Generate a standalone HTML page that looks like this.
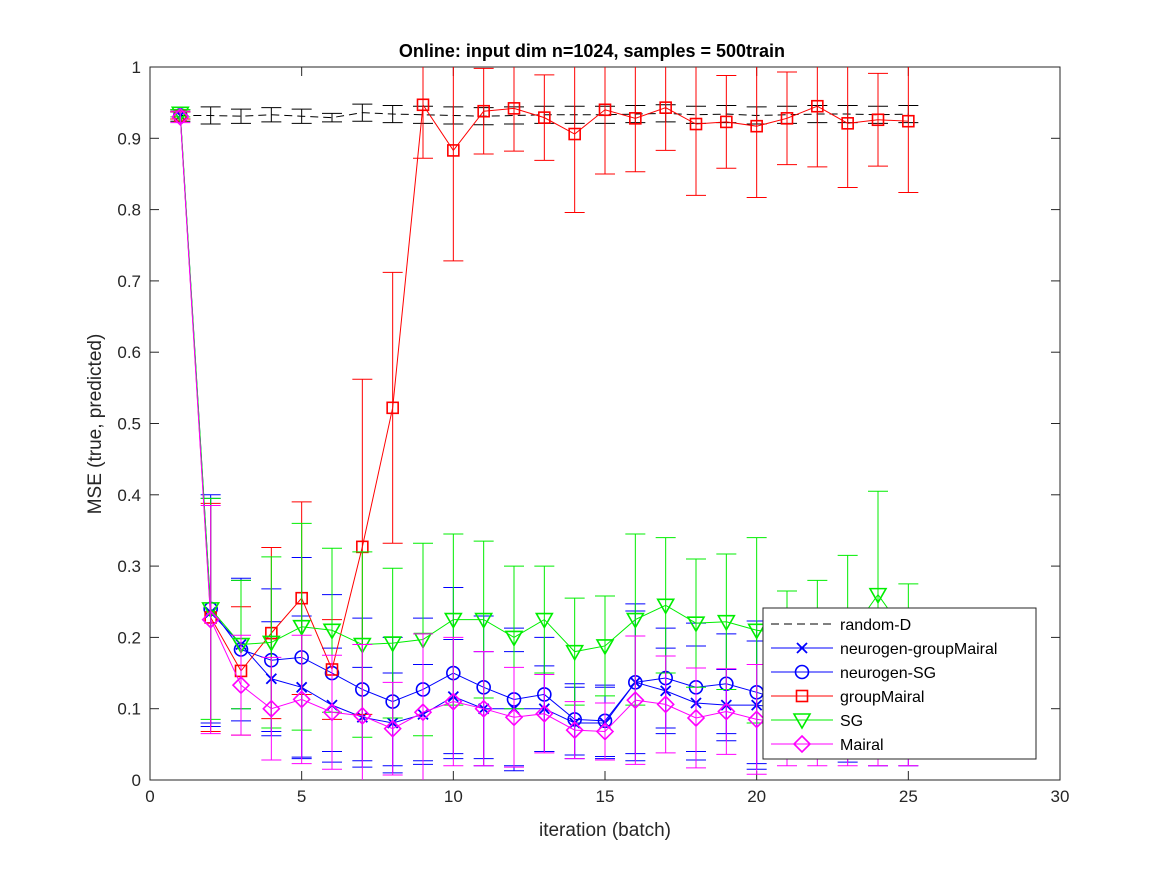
<!DOCTYPE html>
<html><head><meta charset="utf-8"><style>
body{margin:0;background:#fff;}
svg text{font-family:"Liberation Sans",Arial,sans-serif;}
</style></head><body>
<svg id="chart" width="1167" height="875" xmlns="http://www.w3.org/2000/svg">
<rect width="1167" height="875" fill="#fff"/>
<g id="plot"></g>
<text x="592" y="57" text-anchor="middle" font-size="18" font-weight="bold">Online:  input dim n=1024, samples = 500train</text>
<text x="605" y="836" text-anchor="middle" font-size="19" fill="#262626">iteration (batch)</text>
<text transform="translate(101,424) rotate(-90)" text-anchor="middle" font-size="19" fill="#262626">MSE (true, predicted)</text>
</svg>
<script>
const xTicks=[0,5,10,15,20,25,30];
const yTicks=[0,0.1,0.2,0.3,0.4,0.5,0.6,0.7,0.8,0.9,1];
const iters=[1,2,3,4,5,6,7,8,9,10,11,12,13,14,15,16,17,18,19,20,21,22,23,24,25];
const randomD=[0.932,0.932,0.931,0.933,0.931,0.929,0.936,0.934,0.933,0.932,0.931,0.932,0.933,0.933,0.933,0.934,0.935,0.933,0.934,0.932,0.933,0.934,0.934,0.933,0.934];
const randomDErr=[0.008,0.012,0.01,0.01,0.01,0.006,0.012,0.012,0.012,0.012,0.012,0.012,0.012,0.012,0.012,0.012,0.012,0.012,0.012,0.012,0.012,0.012,0.012,0.012,0.012];
const ngm=[0.932,0.235,0.19,0.142,0.13,0.105,0.088,0.08,0.092,0.117,0.1,0.1,0.1,0.08,0.08,0.137,0.125,0.108,0.105,0.105,0.1,0.1,0.1,0.1,0.1];
const ngmErr=[0.005,0.16,0.09,0.08,0.1,0.08,0.07,0.07,0.07,0.08,0.08,0.08,0.06,0.05,0.05,0.1,0.06,0.08,0.05,0.09,0.07,0.07,0.07,0.07,0.07];
const nsg=[0.932,0.24,0.183,0.168,0.172,0.15,0.127,0.11,0.127,0.15,0.13,0.113,0.12,0.085,0.083,0.137,0.143,0.13,0.135,0.123,0.11,0.11,0.105,0.1,0.1];
const nsgErr=[0.005,0.16,0.1,0.1,0.14,0.11,0.1,0.09,0.1,0.12,0.1,0.1,0.08,0.05,0.05,0.11,0.07,0.09,0.07,0.1,0.08,0.08,0.08,0.08,0.08];
const gm=[0.932,0.228,0.153,0.206,0.255,0.155,0.327,0.522,0.947,0.883,0.938,0.942,0.929,0.906,0.94,0.928,0.943,0.92,0.923,0.917,0.928,0.945,0.921,0.926,0.924];
const gmErr=[0.005,0.16,0.09,0.12,0.135,0.07,0.235,0.19,0.075,0.155,0.06,0.06,0.06,0.11,0.09,0.075,0.06,0.1,0.065,0.1,0.065,0.085,0.09,0.065,0.1];
const sg=[0.935,0.24,0.19,0.193,0.215,0.21,0.19,0.192,0.197,0.225,0.225,0.2,0.225,0.18,0.188,0.225,0.245,0.22,0.222,0.21,0.205,0.2,0.2,0.26,0.2];
const sgErr=[0.005,0.155,0.09,0.12,0.145,0.115,0.13,0.105,0.135,0.12,0.11,0.1,0.075,0.075,0.07,0.12,0.095,0.09,0.095,0.13,0.06,0.08,0.115,0.145,0.075];
const mairal=[0.93,0.225,0.133,0.1,0.113,0.095,0.09,0.072,0.095,0.11,0.1,0.088,0.093,0.07,0.068,0.112,0.106,0.087,0.096,0.085,0.08,0.08,0.08,0.08,0.08];
const mairalErr=[0.008,0.16,0.07,0.072,0.09,0.08,0.1,0.065,0.11,0.09,0.08,0.07,0.055,0.04,0.04,0.09,0.068,0.07,0.06,0.077,0.06,0.06,0.06,0.06,0.06];

const L=150,R=1060,T=67,B=780;
const sx=v=>L+(v-0)/(30-0)*(R-L);
const sy=v=>B-(v-0)/(1-0)*(B-T);
const NS='http://www.w3.org/2000/svg';
const plot=document.getElementById('plot');
function mk(tag,attrs,parent){const e=document.createElementNS(NS,tag);for(const k in attrs)e.setAttribute(k,attrs[k]);(parent||plot).appendChild(e);return e;}

const frame=mk('rect',{x:L,y:T,width:R-L,height:B-T,fill:'#fff',stroke:'#262626','stroke-width':1});


xTicks.forEach(t=>{const x=sx(t);
 mk('line',{x1:x,x2:x,y1:B,y2:B-9,stroke:'#262626'});mk('line',{x1:x,x2:x,y1:T,y2:T+9,stroke:'#262626'});
 const tx=mk('text',{x:x,y:B+22,'text-anchor':'middle','font-size':17,fill:'#262626'});tx.textContent=t;
 
 });
yTicks.forEach(t=>{const y=sy(t);
 mk('line',{x1:L,x2:L+9,y1:y,y2:y,stroke:'#262626'});mk('line',{x1:R,x2:R-9,y1:y,y2:y,stroke:'#262626'});
 const tx=mk('text',{x:L-9,y:y+6,'text-anchor':'end','font-size':17,fill:'#262626'});tx.textContent=(t===0||t===1)?String(t):t.toFixed(1);
 
 });

function marker(g,type,x,y,c){
 if(type==='x'){mk('path',{d:`M${x-5},${y-5}L${x+5},${y+5}M${x-5},${y+5}L${x+5},${y-5}`,stroke:c,'stroke-width':1.8,fill:'none'},g);}
 else if(type==='o'){mk('circle',{cx:x,cy:y,r:6.5,stroke:c,'stroke-width':1.6,fill:'none'},g);}
 else if(type==='s'){mk('rect',{x:x-5.5,y:y-5.5,width:11,height:11,stroke:c,'stroke-width':1.6,fill:'none'},g);}
 else if(type==='v'){mk('path',{d:`M${x-8},${y-6}L${x+8},${y-6}L${x},${y+8}Z`,stroke:c,'stroke-width':1.6,fill:'none'},g);}
 else if(type==='d'){mk('path',{d:`M${x},${y-8}L${x+8},${y}L${x},${y+8}L${x-8},${y}Z`,stroke:c,'stroke-width':1.6,fill:'none'},g);}
}
function series(name,vals,errs,color,type,dash){
 const g=mk('g',{});
 
 
 iters.forEach((it,i)=>{const x=sx(it);
  mk('path',{d:`M${x},${sy(vals[i]+errs[i])}V${sy(vals[i]-errs[i])}M${x-10},${sy(vals[i]+errs[i])}h20M${x-10},${sy(vals[i]-errs[i])}h20`,stroke:color,'stroke-width':1,fill:'none','clip-path':'url(#clip)'},g);});
 const pts=iters.map((it,i)=>sx(it)+','+sy(vals[i])).join(' ');
 mk('polyline',{points:pts,fill:'none',stroke:color,'stroke-width':1,'stroke-dasharray':dash||'none'},g);
 if(type)iters.forEach((it,i)=>marker(g,type,sx(it),sy(vals[i]),color));
}
const defs=mk('defs',{});const cp=mk('clipPath',{id:'clip'},defs);mk('rect',{x:L,y:T,width:R-L,height:B-T},cp);
series('random-d',randomD,randomDErr,'#000',null,'8,5');
series('neurogen-groupmairal',ngm,ngmErr,'#0000ff','x');
series('neurogen-sg',nsg,nsgErr,'#0000ff','o');
series('groupmairal',gm,gmErr,'#ff0000','s');
series('sg',sg,sgErr,'#00ee00','v');
series('mairal',mairal,mairalErr,'#ff00ff','d');

const lg=mk('g',{});


mk('rect',{x:763,y:608,width:273,height:151,fill:'#fff',stroke:'#262626'},lg);
const entries=[['random-D','#000',null,'8,5'],['neurogen-groupMairal','#0000ff','x'],['neurogen-SG','#0000ff','o'],['groupMairal','#ff0000','s'],['SG','#00ee00','v'],['Mairal','#ff00ff','d']];
entries.forEach((e,i)=>{const y=624+i*24;
 const eg=mk('g',{},lg);
 
 
 mk('line',{x1:771,x2:833,y1:y,y2:y,stroke:e[1],'stroke-dasharray':e[3]||'none'},eg);
 if(e[2])marker(eg,e[2],802,y,e[1]);
 const t=mk('text',{x:840,y:y+6,'font-size':16,fill:'#000'},eg);t.textContent=e[0];});
</script>
</body></html>
